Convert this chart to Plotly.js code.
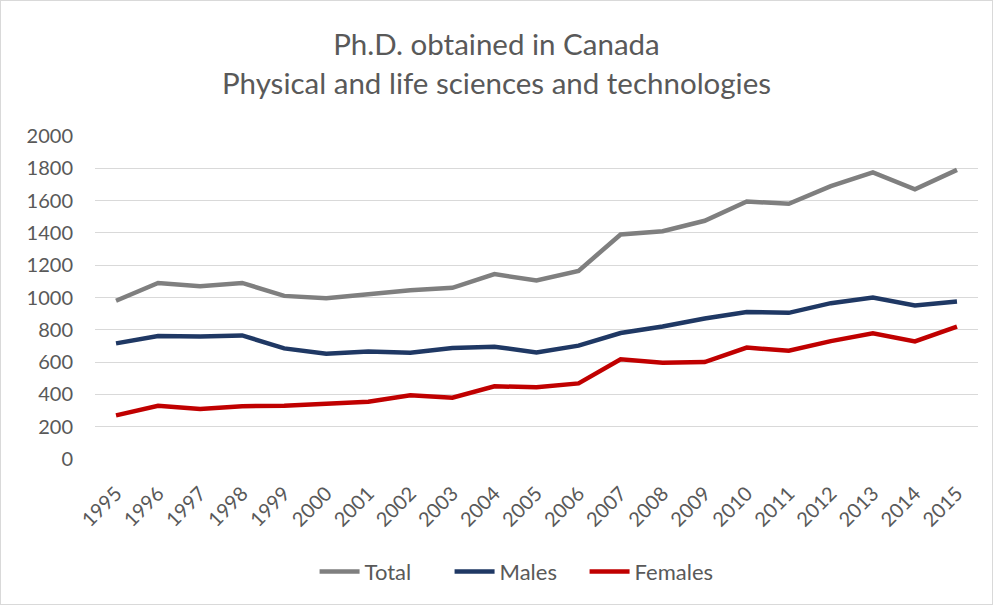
<!DOCTYPE html>
<html>
<head>
<meta charset="utf-8">
<script src="https://cdn.plot.ly/plotly-3.0.1.min.js"></script>
<style>
html,body{margin:0;padding:0;background:#fff;}
#chart{width:991px;height:603px;border:1px solid #d9d9d9;}
</style>
</head>
<body>
<div id="chart"></div>
<script>
const years = ["1995","1996","1997","1998","1999","2000","2001","2002","2003","2004","2005","2006","2007","2008","2009","2010","2011","2012","2013","2014","2015"];
const total = [980,1090,1070,1090,1010,995,1020,1045,1060,1145,1105,1165,1390,1410,1475,1595,1580,1690,1775,1670,1790];
const males = [716,761,758,765,685,652,665,658,687,695,660,702,780,820,870,910,905,965,1000,950,975];
const females = [270,330,310,327,330,342,355,395,380,450,445,468,617,596,600,690,670,730,778,728,820];

const font = "Lato, sans-serif";
const traces = [
  {x: years, y: total, name: "Total", type: "scatter", mode: "lines", line: {color: "#7f7f7f", width: 4.5}},
  {x: years, y: males, name: "Males", type: "scatter", mode: "lines", line: {color: "#1f3864", width: 4.5}},
  {x: years, y: females, name: "Females", type: "scatter", mode: "lines", line: {color: "#c00000", width: 4.5}}
];
const layout = {
  width: 991, height: 603,
  paper_bgcolor: "#fff", plot_bgcolor: "#fff",
  margin: {l: 94, r: 14, t: 135, b: 144},
  font: {family: font, color: "#595959", size: 20},
  title: {text: "Ph.D. obtained in Canada<br>Physical and life sciences and technologies", x: 0.5, xanchor: "center", y: 0.91, yanchor: "top", font: {size: 29.5, color: "#595959", family: font}},
  xaxis: {type: "category", range: [-0.5, 20.5], tickangle: -45, showgrid: false, zeroline: false, showline: false, ticks: "", tickfont: {size: 20, color: "#595959"}, ticklabelstandoff: 18},
  yaxis: {range: [0, 2000], dtick: 200, showgrid: true, gridcolor: "#d9d9d9", gridwidth: 1, zeroline: false, showline: false, ticks: "", tickfont: {size: 20, color: "#595959"}, ticklabelstandoff: 21},
  showlegend: true,
  legend: {orientation: "h", x: 0.478, xanchor: "center", y: -0.28, yanchor: "top", font: {size: 22, color: "#595959"}, itemwidth: 40, entrywidth: 80, entrywidthmode: "pixels"},
  hovermode: false
};
Plotly.newPlot("chart", traces, layout, {displayModeBar: false, staticPlot: true});
</script>
</body>
</html>
